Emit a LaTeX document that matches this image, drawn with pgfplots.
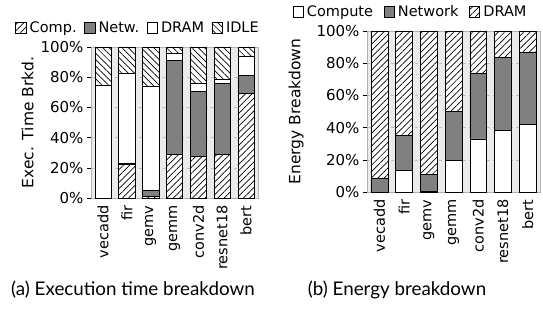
\documentclass[border=0pt]{standalone}
\usepackage{fontspec}
\setmainfont{DejaVu Sans}
\newfontfamily\capfont{Lato}
\usepackage{pgfplots}
\pgfplotsset{compat=1.18}
\usetikzlibrary{patterns,patterns.meta}
\definecolor{bg}{HTML}{EBEBEB}
\definecolor{netw}{HTML}{808080}
\tikzset{
  pne/.style={draw=black,fill=white,postaction={pattern={Lines[angle=45,distance=4.5bp,line width=0.7bp]}}},
  pnw/.style={draw=black,fill=white,postaction={pattern={Lines[angle=-45,distance=4.5bp,line width=0.7bp]}}},
  pnet/.style={draw=black,fill=netw},
  pwhite/.style={draw=black,fill=white},
}
\pgfplotsset{
  mybar/.style={
    ybar stacked, scale only axis,
    bar width=0.68,
    xmin=-0.5, xmax=6.5, ymin=0, ymax=100,
    xtick={0,...,6},
    xticklabels={vecadd,fir,gemv,gemm,conv2d,resnet18,bert},
    x tick label style={rotate=90,anchor=east,font=\fontsize{14.5bp}{16bp}\selectfont},
    ytick={0,20,...,100},
    yticklabel={\pgfmathprintnumber{\tick}\%},
    y tick label style={font=\fontsize{15bp}{17bp}\selectfont},
    /pgf/number format/assume math mode=true,
    ymajorgrids, grid style={dashed,gray!50,line width=0.5bp},
    axis background/.style={fill=bg},
    axis line style={draw=gray!60},
    major x tick style={draw=none},
    major y tick style={draw=black,line width=0.6bp},
    tick align=outside, major tick length=4bp,
    ytick pos=left,
    legend columns=-1,
    area legend,
    legend style={draw=none,fill=none,font=\fontsize{14.5bp}{16bp}\selectfont,
      nodes={inner sep=1.5bp},
      /tikz/every odd column/.append style={column sep=2bp},
      /tikz/every even column/.append style={column sep=6bp}},
    legend image code/.code={\draw[#1] (0bp,-5bp) rectangle (10.5bp,5.5bp);},
    ylabel style={font=\fontsize{15.5bp}{17bp}\selectfont},
    clip=false,
  }
}
\begin{document}
\begin{tikzpicture}[x=1bp,y=1bp]
\useasboundingbox (0,0) rectangle (543,314);
\begin{axis}[mybar,
  at={(91bp,116bp)}, anchor=south west,
  width=167bp, height=151bp,
  ylabel={Exec. Time Brkd.},
  ylabel style={at={(axis description cs:-0.38,0.5)},anchor=center},
  legend style={at={(axis description cs:0.28,1.126)},anchor=center},
]
\addplot+[pne] coordinates {(0,0) (1,22.2) (2,1.0) (3,28.9) (4,27.8) (5,28.7) (6,69.3)};
\addplot+[pnet] coordinates {(0,0) (1,0.6) (2,3.9) (3,62.2) (4,42.6) (5,47.3) (6,11.8)};
\addplot+[pwhite] coordinates {(0,74.9) (1,59.9) (2,69.3) (3,4.9) (4,5.6) (5,2.9) (6,12.7)};
\addplot+[pnw] coordinates {(0,25.1) (1,17.3) (2,25.8) (3,4.0) (4,24.0) (5,21.1) (6,6.2)};
\legend{Comp.,Netw.,DRAM,IDLE}
\end{axis}
\begin{axis}[mybar,
  at={(367bp,122bp)}, anchor=south west,
  width=173bp, height=161bp,
  ylabel={Energy Breakdown},
  ylabel style={at={(axis description cs:-0.41,0.5)},anchor=center},
  legend style={at={(axis description cs:0.25,1.118)},anchor=center,
    /tikz/every even column/.append style={column sep=9bp}},
]
\addplot+[pwhite] coordinates {(0,0) (1,13.6) (2,0.5) (3,19.8) (4,33.0) (5,38.1) (6,41.9)};
\addplot+[pnet] coordinates {(0,8.5) (1,21.4) (2,10.6) (3,30.1) (4,40.6) (5,45.4) (6,45.1)};
\addplot+[pne] coordinates {(0,91.5) (1,65.0) (2,88.9) (3,50.1) (4,26.4) (5,16.5) (6,13.0)};
\legend{Compute,Network,DRAM}
\end{axis}
\node[font=\capfont\fontsize{18.8bp}{20bp}\selectfont] at (133,24) {(a) Execution time breakdown};
\node[font=\capfont\fontsize{18.8bp}{20bp}\selectfont] at (397,24) {(b) Energy breakdown};
\end{tikzpicture}
\end{document}
